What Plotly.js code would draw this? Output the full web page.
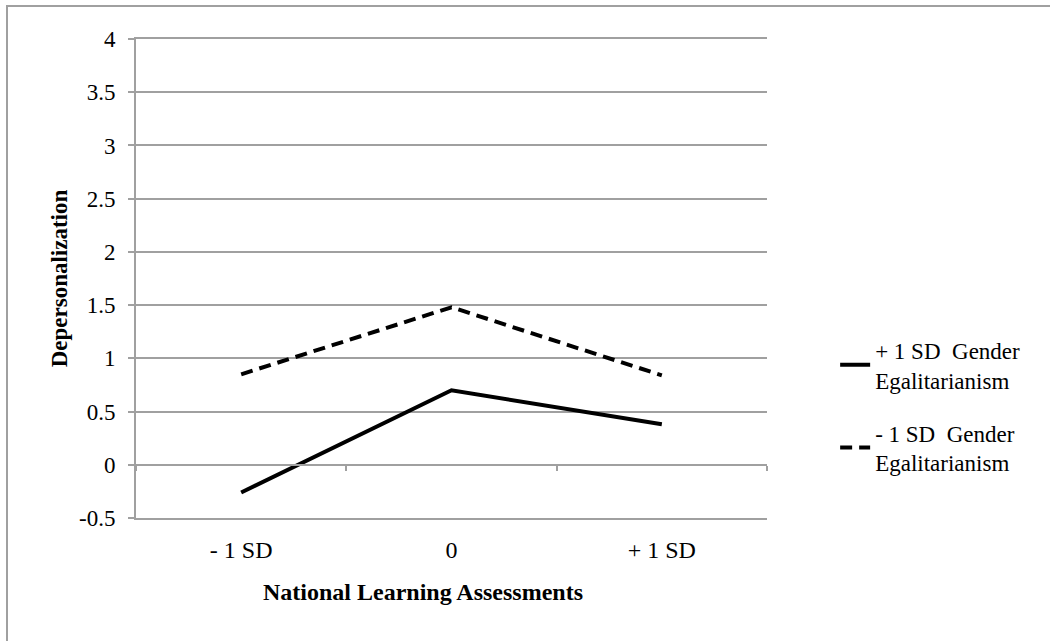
<!DOCTYPE html>
<html>
<head>
<meta charset="utf-8">
<script src="https://cdn.plot.ly/plotly-3.0.1.min.js"></script>
<style>
html,body{margin:0;padding:0;background:#fff;}
#wrap{position:relative;width:1050px;height:641px;overflow:hidden;}
#chart{position:absolute;left:0;top:0;width:1050px;height:641px;}
#frame{position:absolute;left:6px;top:5px;right:-10px;bottom:-10px;border-top:2px solid #a0a0a0;border-left:2px solid #a0a0a0;pointer-events:none;}
</style>
</head>
<body>
<div id="wrap"><div id="chart"></div><div id="frame"></div></div>
<script>
const categories = ['- 1 SD', '0', '+ 1 SD'];
const seriesNames = ['+ 1 SD  Gender<br>Egalitarianism', '- 1 SD  Gender<br>Egalitarianism'];
const highEgalitarianism = [-0.26, 0.70, 0.38];
const lowEgalitarianism = [0.85, 1.48, 0.84];
const yTickVals = [-0.5, 0, 0.5, 1, 1.5, 2, 2.5, 3, 3.5, 4];
const yTickText = ['-0.5', '0', '0.5', '1', '1.5', '2', '2.5', '3', '3.5', '4'];

const serif = 'Liberation Serif';
const grid = '#a0a0a0';
const fs = 24;

const traces = [
  {x: categories, y: highEgalitarianism, name: seriesNames[0], type: 'scatter', mode: 'lines',
   legendgroup: 'high', line: {color: '#000', width: 4}},
  {x: categories, y: lowEgalitarianism, name: seriesNames[1], type: 'scatter', mode: 'lines',
   legendgroup: 'low', line: {color: '#000', width: 4, dash: '12px,7px'}},
  {x: [0, 1, 2], y: [0, 0, 0], xaxis: 'x2', type: 'scatter', mode: 'lines',
   line: {width: 0}, showlegend: false, hoverinfo: 'skip'}
];

const layout = {
  width: 1050, height: 641,
  margin: {l: 136, r: 283, t: 39, b: 123},
  paper_bgcolor: '#fff', plot_bgcolor: '#fff',
  font: {family: serif, size: fs, color: '#000'},
  showlegend: true,
  xaxis: {
    type: 'category', range: [-0.5, 2.5], ticks: '', showgrid: false,
    showline: true, mirror: true, linecolor: grid, linewidth: 2,
    ticklabelstandoff: 9,
    tickfont: {family: serif, size: fs, color: '#000'}, fixedrange: true
  },
  xaxis2: {
    overlaying: 'x', anchor: 'free', position: 0.5 / 4.5, range: [-0.5, 2.5],
    tickmode: 'array', tickvals: [-0.5, 0.5, 1.5, 2.5], showticklabels: false,
    ticks: 'outside', ticklen: 5, tickwidth: 2, tickcolor: grid,
    showline: true, linecolor: grid, linewidth: 2, showgrid: false, zeroline: false
  },
  yaxis: {
    range: [-0.5, 4], tickmode: 'array', tickvals: yTickVals, ticktext: yTickText,
    showgrid: true, gridcolor: grid, gridwidth: 2, zeroline: false,
    showline: true, linecolor: grid, linewidth: 2,
    ticks: 'outside', ticklen: 6, tickwidth: 2, tickcolor: grid,
    ticklabelstandoff: 8,
    tickfont: {family: serif, size: fs - 1, color: '#000'},
    title: {text: '<b>Depersonalization</b>', font: {family: serif, size: fs - 1, color: '#000'}, standoff: 5},
    fixedrange: true
  },
  legend: {
    x: 1.108, xanchor: 'left', y: 0.396, yanchor: 'top',
    font: {family: serif, size: fs - 1, color: '#000'},
    bgcolor: 'rgba(0,0,0,0)', tracegroupgap: 20, itemwidth: 30
  },
  annotations: [{
    text: '<b>National Learning Assessments</b>', xref: 'paper', yref: 'paper',
    x: 0.455, y: -0.154, xanchor: 'center', yanchor: 'middle', showarrow: false,
    font: {family: serif, size: fs, color: '#000'}
  }]
};

Plotly.newPlot('chart', traces, layout, {staticPlot: true, displayModeBar: false});
</script>
</body>
</html>
